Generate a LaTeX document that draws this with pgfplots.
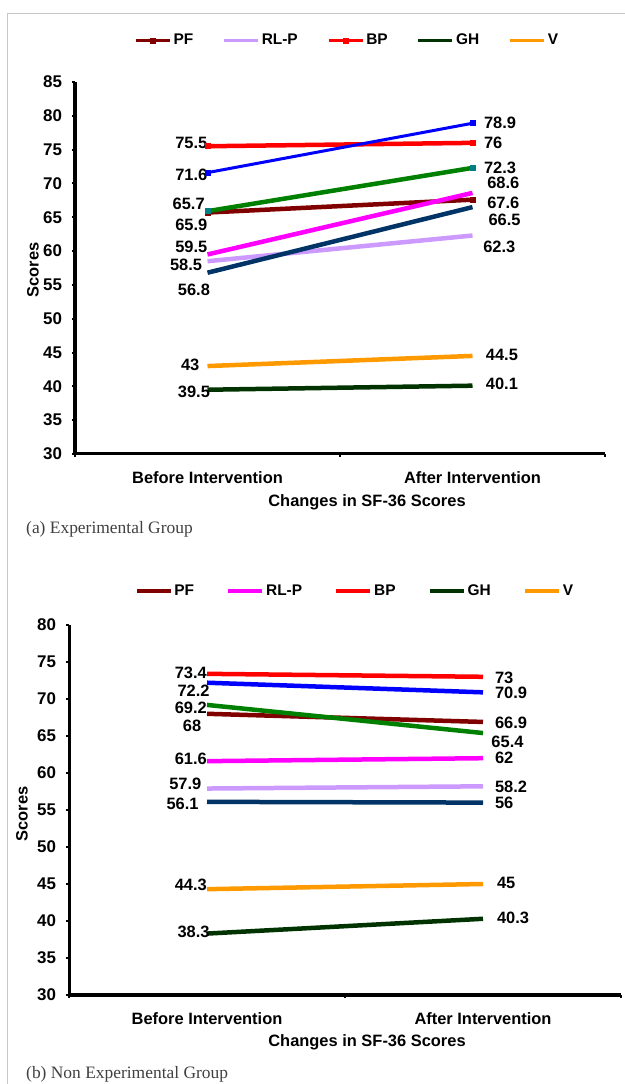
\documentclass[border=0pt]{standalone}
\usepackage{pgfplots}
\pgfplotsset{compat=1.18}
\usepackage{fontspec}
\setmainfont{Liberation Sans}
\newfontfamily\capfont{Liberation Serif}
\newcommand\lbl{\bfseries\fontsize{16.5}{19}\selectfont}
\newcommand\tck{\bfseries\fontsize{17}{19}\selectfont}
\newcommand\lgd{\bfseries\fontsize{15.5}{18}\selectfont}

\definecolor{pfc}{HTML}{800000}
\definecolor{rlp}{HTML}{CC99FF}
\definecolor{bpc}{HTML}{FF0000}
\definecolor{ghc}{HTML}{003300}
\definecolor{vc}{HTML}{FF9900}
\definecolor{blu}{HTML}{0000FF}
\definecolor{grn}{HTML}{008000}
\definecolor{mag}{HTML}{FF00FF}
\definecolor{nav}{HTML}{003366}
\definecolor{tea}{HTML}{008080}

\tikzset{
  sq/.style={mark=square*, mark size=2.5bp, mark options={line width=0.5bp, fill=#1, draw=#1}},
  lab/.style={font=\lbl, inner sep=0pt},
}

\pgfplotsset{
  sfchart/.style={
    scale only axis,
    clip=false,
    axis x line*=bottom,
    axis y line*=left,
    axis line style={line width=3bp, black},
    xmin=-0.5, xmax=1.5,
    xtick={-0.5,0.5,1.5}, xticklabels={},
    extra x ticks={0,1},
    extra x tick labels={Before Intervention, After Intervention},
    extra x tick style={tick style={draw=none}, tick label style={font=\lbl, yshift=-11bp}},
    ytick distance=5,
    tick align=outside,
    major tick length=3bp,
    tick style={line width=2bp, black},
    tick label style={font=\tck},
    yticklabel style={xshift=-6.5bp},
    /pgf/number format/assume math mode=true,
    every axis plot/.append style={line width=4.5bp},
    legend columns=5,
    legend cell align=left,
    legend style={draw=none, fill=none, inner sep=0pt, font=\lgd,
      nodes={inner sep=0pt},
      /tikz/every odd column/.append style={column sep=2bp}},
    legend image code/.code={
      \draw[mark repeat=2, mark phase=2, line width=3.5bp, ##1]
        plot coordinates {(0bp,0bp) (17bp,0bp) (34bp,0bp)};},
  },
}

\begin{document}
\begin{tikzpicture}
\path[use as bounding box] (0bp,0bp) rectangle (625bp,1084bp);
\draw[black!22, line width=0.8bp] (7bp,0bp) -- (7bp,1071bp) -- (625bp,1071bp);

% (a) experimental group
\begin{axis}[sfchart,
    at={(75bp,630bp)}, anchor=south west,
    width=530bp, height=372bp,
    ymin=30, ymax=85,
    legend style={at={(0.111,1.112)}, anchor=west,
      /tikz/every even column/.append style={column sep=29bp}}]
  \addplot[pfc, sq=pfc] coordinates {(0,65.7) (1,67.6)};
  \addlegendentry{PF}
  \addplot[rlp] coordinates {(0,58.5) (1,62.3)};
  \addlegendentry{RL-P}
  \addplot[bpc, sq=bpc] coordinates {(0,75.5) (1,76)};
  \addlegendentry{BP}
  \addplot[ghc] coordinates {(0,39.5) (1,40.1)};
  \addlegendentry{GH}
  \addplot[vc] coordinates {(0,43) (1,44.5)};
  \addlegendentry{V}
  \addplot[blu, line width=3bp, sq=blu, forget plot] coordinates {(0,71.6) (1,78.9)};
  \addplot[grn, sq=tea, forget plot] coordinates {(0,65.9) (1,72.3)};
  \addplot[mag, forget plot] coordinates {(0,59.5) (1,68.6)};
  \addplot[nav, forget plot] coordinates {(0,56.8) (1,66.5)};

  \node[lab, anchor=east] at (axis cs:0,76.0) {75.5};
  \node[lab, anchor=east] at (axis cs:0,71.2) {71.6};
  \node[lab, anchor=east] at (axis cs:-0.01,67.0) {65.7};
  \node[lab, anchor=east] at (axis cs:0,63.9) {65.9};
  \node[lab, anchor=east] at (axis cs:0,60.6) {59.5};
  \node[lab, anchor=east] at (axis cs:-0.02,57.9) {58.5};
  \node[lab, anchor=east] at (axis cs:0.01,54.2) {56.8};
  \node[lab, anchor=east] at (axis cs:-0.03,43.2) {43};
  \node[lab, anchor=east] at (axis cs:0.01,39.2) {39.5};

  \node[lab, anchor=west] at (axis cs:1.043,78.9) {78.9};
  \node[lab, anchor=west] at (axis cs:1.043,76.0) {76};
  \node[lab, anchor=west] at (axis cs:1.043,72.3) {72.3};
  \node[lab, anchor=west] at (axis cs:1.055,70.1) {68.6};
  \node[lab, anchor=west] at (axis cs:1.055,67.1) {67.6};
  \node[lab, anchor=west] at (axis cs:1.06,64.6) {66.5};
  \node[lab, anchor=west] at (axis cs:1.04,60.6) {62.3};
  \node[lab, anchor=west] at (axis cs:1.05,44.6) {44.5};
  \node[lab, anchor=west] at (axis cs:1.05,40.3) {40.1};
\end{axis}
\node[font=\lbl] at (367bp,582bp) {Changes in SF-36 Scores};
\node[font=\lbl, rotate=90] at (33bp,814bp) {Scores};
\node[anchor=west, inner sep=0pt, text=black!75, font=\capfont\fontsize{17.5}{20}\selectfont] at (26bp,555bp) {(a) Experimental Group};

% (b) non experimental group
\begin{axis}[sfchart,
    at={(69bp,89bp)}, anchor=south west,
    width=552bp, height=370bp,
    ymin=30, ymax=80,
    legend style={at={(0.119,1.092)}, anchor=west,
      /tikz/every even column/.append style={column sep=32.5bp}}]
  \addplot[pfc] coordinates {(0,68) (1,66.9)};
  \addlegendentry{PF}
  \addplot[mag] coordinates {(0,61.6) (1,62)};
  \addlegendentry{RL-P}
  \addplot[bpc] coordinates {(0,73.4) (1,73)};
  \addlegendentry{BP}
  \addplot[ghc] coordinates {(0,38.3) (1,40.3)};
  \addlegendentry{GH}
  \addplot[vc] coordinates {(0,44.3) (1,45)};
  \addlegendentry{V}
  \addplot[blu, forget plot] coordinates {(0,72.2) (1,70.9)};
  \addplot[grn, forget plot] coordinates {(0,69.2) (1,65.4)};
  \addplot[rlp, forget plot] coordinates {(0,57.9) (1,58.2)};
  \addplot[nav, forget plot] coordinates {(0,56.1) (1,56)};

  \node[lab, anchor=east] at (axis cs:0,73.6) {73.4};
  \node[lab, anchor=east] at (axis cs:0.01,71.1) {72.2};
  \node[lab, anchor=east] at (axis cs:0,68.8) {69.2};
  \node[lab, anchor=east] at (axis cs:-0.02,66.4) {68};
  \node[lab, anchor=east] at (axis cs:0,61.9) {61.6};
  \node[lab, anchor=east] at (axis cs:-0.02,58.6) {57.9};
  \node[lab, anchor=east] at (axis cs:-0.03,55.8) {56.1};
  \node[lab, anchor=east] at (axis cs:0,44.9) {44.3};
  \node[lab, anchor=east] at (axis cs:0.01,38.5) {38.3};

  \node[lab, anchor=west] at (axis cs:1.043,72.8) {73};
  \node[lab, anchor=west] at (axis cs:1.043,70.8) {70.9};
  \node[lab, anchor=west] at (axis cs:1.043,66.8) {66.9};
  \node[lab, anchor=west] at (axis cs:1.03,64.2) {65.4};
  \node[lab, anchor=west] at (axis cs:1.043,62.0) {62};
  \node[lab, anchor=west] at (axis cs:1.043,58.1) {58.2};
  \node[lab, anchor=west] at (axis cs:1.043,55.9) {56};
  \node[lab, anchor=west] at (axis cs:1.05,45.1) {45};
  \node[lab, anchor=west] at (axis cs:1.05,40.4) {40.3};
\end{axis}
\node[font=\lbl] at (367bp,42bp) {Changes in SF-36 Scores};
\node[font=\lbl, rotate=90] at (22bp,270bp) {Scores};
\node[anchor=west, inner sep=0pt, text=black!75, font=\capfont\fontsize{17.5}{20}\selectfont] at (26bp,10bp) {(b) Non Experimental Group};
\end{tikzpicture}
\end{document}
